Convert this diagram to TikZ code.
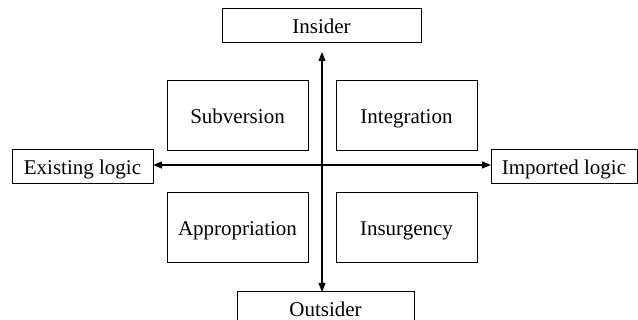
\documentclass[tikz,border=0pt]{standalone}
\usepackage{fontspec}
\setmainfont{Liberation Serif}
\usetikzlibrary{arrows.meta}
\begin{document}
\begin{tikzpicture}
        [
            x=1pt, y=-1pt,
            font=\fontsize{21}{25}\selectfont,
            axis/.style = {draw, rectangle, minimum height=34pt, text height=18pt, text depth=3pt, inner sep=0pt, outer sep=0pt, line width=1pt},
            quad/.style = {draw, rectangle, minimum width=141pt, minimum height=70pt, text height=18pt, text depth=3pt, inner sep=0pt, outer sep=0pt, line width=1pt},
            arr/.style = {{Triangle[length=9pt,width=7pt]}-{Triangle[length=9pt,width=7pt]}, line width=1.2pt},
        ]
        \useasboundingbox (0,0) rectangle (638,320);
        \node [axis, minimum width=199pt] (insider) at (321.5,26) {Insider};
        \node [axis, minimum width=177pt] (outsider) at (325.5,309) {Outsider};
        \node [axis, minimum width=141pt] (existing) at (82.5,167) {Existing logic};
        \node [axis, minimum width=146pt] (imported) at (564,167) {Imported logic};
        \node [quad] (subversion) at (237.5,116) {Subversion};
        \node [quad] (integration) at (406.5,116) {Integration};
        \node [quad] (appropriation) at (237.5,228) {Appropriation};
        \node [quad] (insurgency) at (406.5,228) {Insurgency};
        \coordinate (top) at ([xshift=0.5pt, yshift=-9pt]insider.south);
        \draw[arr] (top) -- (top |- outsider.north);
        \draw[arr] ([yshift=2pt]existing.east) -- ([yshift=2pt]imported.west);
    \end{tikzpicture}
\end{document}
